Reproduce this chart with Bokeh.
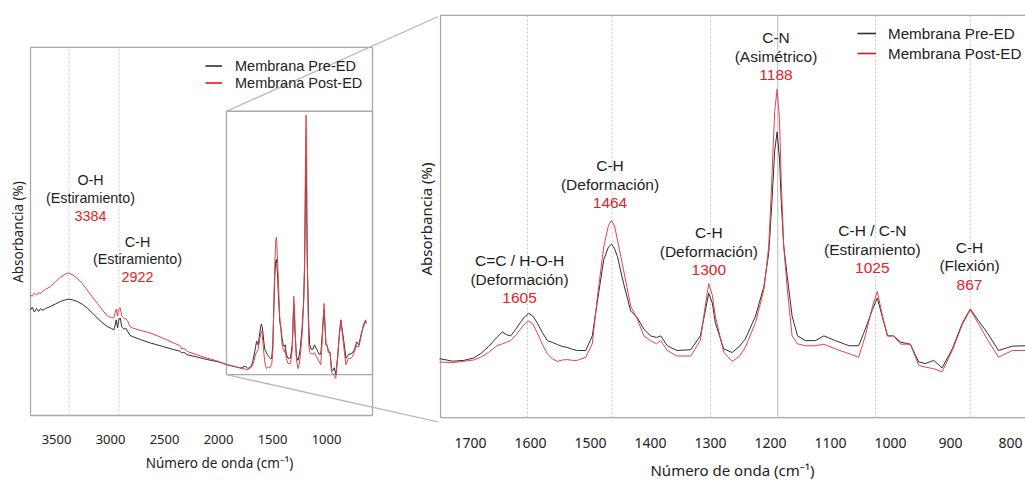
import math
from bokeh.plotting import figure
from bokeh.models import Range1d, FixedTicker, Legend, LegendItem
from bokeh.layouts import row
from bokeh.embed import file_html
from bokeh.resources import INLINE
from bokeh.core.properties import value

# ---------------- data ----------------
wavenumber = [3741, 3725, 3705, 3685, 3665, 3648, 3625, 3600,
              3556, 3510, 3463, 3420, 3386, 3350, 3309, 3260, 3216, 3170,
              3123, 3075, 3031, 2990, 2969, 2955, 2947, 2935, 2922, 2910,
              2895, 2877, 2855, 2840, 2820, 2800, 2720, 2630, 2520, 2414,
              2360, 2340, 2320, 2290, 2200, 2105, 2000, 1920, 1850, 1796,
              1750, 1730, 1711, 1695, 1683, 1670, 1656, 1647, 1640, 1633,
              1625, 1617, 1610, 1603, 1596, 1589, 1580, 1572, 1563, 1555,
              1547, 1539, 1530, 1522, 1508, 1497, 1489, 1478, 1470, 1465,
              1460, 1455, 1445, 1433, 1422, 1411, 1400, 1390, 1383, 1372,
              1356, 1333, 1317, 1310, 1303, 1297, 1292, 1278, 1264, 1252,
              1242, 1225, 1211, 1203, 1198, 1193, 1189, 1185, 1182, 1178,
              1172, 1164, 1155, 1142, 1125, 1111, 1092, 1069, 1053, 1042,
              1030, 1022, 1014, 1005, 995, 983, 967, 953, 942, 928,
              914, 897, 880, 867, 853, 839, 820, 797, 775, 760,
              740, 720, 700, 680, 660, 640, 630]

pre_ed = [0.287, 0.294, 0.281, 0.291, 0.283, 0.290, 0.286, 0.291,
          0.296, 0.303, 0.310, 0.314, 0.316, 0.314, 0.310, 0.302, 0.292, 0.279,
          0.265, 0.252, 0.242, 0.236, 0.233, 0.248, 0.260, 0.238, 0.262, 0.265,
          0.240, 0.235, 0.236, 0.228, 0.218, 0.215, 0.206, 0.197, 0.188, 0.179,
          0.175, 0.170, 0.172, 0.165, 0.159, 0.152, 0.146, 0.138, 0.133, 0.129,
          0.134, 0.128, 0.130, 0.136, 0.147, 0.165, 0.188, 0.202, 0.195, 0.192,
          0.208, 0.2255, 0.240, 0.249, 0.242, 0.2255, 0.200, 0.180, 0.175, 0.170,
          0.165, 0.163, 0.158, 0.155, 0.155, 0.192, 0.275, 0.384, 0.417, 0.424,
          0.413, 0.392, 0.325, 0.255, 0.238, 0.209, 0.192, 0.188, 0.192, 0.167,
          0.155, 0.157, 0.192, 0.245, 0.300, 0.275, 0.2255, 0.159, 0.150, 0.165,
          0.184, 0.242, 0.317, 0.400, 0.520, 0.660, 0.708, 0.640, 0.530, 0.420,
          0.342, 0.242, 0.192, 0.180, 0.180, 0.192, 0.180, 0.167, 0.167, 0.209,
          0.259, 0.288, 0.242, 0.192, 0.192, 0.176, 0.171, 0.126, 0.122, 0.130,
          0.111, 0.159, 0.2255, 0.260, 0.2297, 0.2006, 0.155, 0.166, 0.167, 0.170,
          0.180, 0.200, 0.192, 0.220, 0.240, 0.256, 0.250]

post_ed = [0.328, 0.324, 0.333, 0.327, 0.334, 0.331, 0.338, 0.343,
           0.350, 0.363, 0.376, 0.384, 0.387, 0.382, 0.373, 0.358, 0.341, 0.323,
           0.305, 0.287, 0.271, 0.266, 0.265, 0.280, 0.289, 0.270, 0.290, 0.292,
           0.270, 0.265, 0.262, 0.256, 0.242, 0.238, 0.231, 0.224, 0.211, 0.197,
           0.190, 0.181, 0.183, 0.174, 0.165, 0.156, 0.147, 0.138, 0.133, 0.129,
           0.126, 0.124, 0.128, 0.131, 0.138, 0.150, 0.167, 0.172, 0.176, 0.180,
           0.193, 0.209, 0.221, 0.2297, 0.222, 0.2006, 0.170, 0.147, 0.133, 0.1275,
           0.131, 0.132, 0.130, 0.130, 0.138, 0.172, 0.284, 0.417, 0.472, 0.484,
           0.470, 0.434, 0.359, 0.267, 0.234, 0.192, 0.180, 0.172, 0.180, 0.155,
           0.141, 0.141, 0.180, 0.255, 0.324, 0.295, 0.242, 0.151, 0.1275, 0.140,
           0.163, 0.2255, 0.309, 0.417, 0.580, 0.760, 0.816, 0.740, 0.580, 0.420,
           0.309, 0.192, 0.172, 0.167, 0.167, 0.171, 0.159, 0.147, 0.138, 0.192,
           0.267, 0.3046, 0.2465, 0.192, 0.192, 0.171, 0.171, 0.1175, 0.113, 0.109,
           0.101, 0.155, 0.2215, 0.258, 0.2215, 0.184, 0.138, 0.155, 0.155, 0.160,
           0.175, 0.190, 0.186, 0.215, 0.245, 0.260, 0.255]

left_ticks = [3500, 3000, 2500, 2000, 1500, 1000]
right_ticks = [1700, 1600, 1500, 1400, 1300, 1200, 1100, 1000, 900, 800]

left_bands = [3384, 2922]
left_groups = ["O-H", "C-H"]
left_modes = ["(Estiramiento)", "(Estiramiento)"]
left_labels = ["3384", "2922"]

right_bands = [1605, 1464, 1300, 1025, 867]
main_band = [1188]
right_groups = ["C=C / H-O-H", "C-H", "C-H", "C-N", "C-H / C-N", "C-H"]
right_modes = ["(Deformación)", "(Deformación)", "(Deformación)", "(Asimétrico)",
               "(Estiramiento)", "(Flexión)"]
right_labels = ["1605", "1464", "1300", "1188", "1025", "867"]

series_names = ["Membrana Pre-ED", "Membrana Post-ED"]

# ---------------- layout / style (not data) ----------------
BLACK = "#2f2f2f"
RED = "#e0444a"
LEG_RED = "#e8141c"
FRAME = "#a8a8a8"
GRID = "#c8c8c8"
TXT = "#1e1e1e"
NUM = "#e3222a"
ANN_FONT = value("Liberation Sans")
NAN = [float("nan")]

# left panel: full spectrum
LX = (4018.5, -37.04)
LY = (-0.02439, 1.1274)
LBOX = (3740.7, 574.0, 0.0, 1.0)          # left, right, bottom, top (data units)
INSET = (1926.0, 574.0, 0.1111, 0.8266)

p1 = figure(width=438, height=482, x_range=Range1d(*LX), y_range=Range1d(*LY),
            output_backend="svg", toolbar_location=None, y_axis_location=None,
            min_border_left=0, min_border_right=0, min_border_top=0, min_border_bottom=57)
p1.outline_line_color = None
p1.grid.visible = False

ax = p1.xaxis[0]
ax.ticker = FixedTicker(ticks=left_ticks)
ax.major_tick_line_color = None
ax.minor_tick_line_color = None
ax.axis_line_color = None
ax.major_label_text_font = "Noto Sans"
ax.major_label_text_font_size = "13px"
ax.major_label_text_color = "#222222"
ax.major_label_standoff = 4
ax.axis_label = "Número de onda (cm⁻¹)"
ax.axis_label_text_font = "Noto Sans"
ax.axis_label_text_font_size = "13.5px"
ax.axis_label_text_font_style = "normal"
ax.axis_label_text_color = "#222222"
ax.axis_label_standoff = 7

p1.quad(left=[LBOX[0]], right=[LBOX[1]], bottom=[LBOX[2]], top=[LBOX[3]],
        fill_color=None, line_color=FRAME, line_width=1.3)
p1.segment(x0=left_bands, y0=[LBOX[2]] * len(left_bands), x1=left_bands,
           y1=[LBOX[3]] * len(left_bands), line_color=GRID, line_dash="2 2", line_width=1)
p1.quad(left=[INSET[0]], right=[INSET[1]], bottom=[INSET[2]], top=[INSET[3]],
        fill_color=None, line_color=FRAME, line_width=1.3)
# zoom connector lines towards the right panel's frame corners
p1.segment(x0=[INSET[0], INSET[0]], y0=[INSET[3], INSET[2]],
           x1=[-55.6, -55.6], y1=[1.0867, -0.019], line_color="#b8b8b8", line_width=1.3)

p1.line(wavenumber, pre_ed, line_color=BLACK, line_width=1)
p1.line(wavenumber, post_ed, line_color=RED, line_width=1)
k1_pre = p1.line(x=NAN, y=NAN, line_color=BLACK, line_width=1.6)
k1_post = p1.line(x=NAN, y=NAN, line_color=LEG_RED, line_width=1.6)

LGAP = 0.0485
l_ann_x = [3185, 2750]
l_ann_y = [0.6396, 0.4724]
p1.text(x=l_ann_x, y=l_ann_y, text=left_groups, text_font=ANN_FONT, text_font_size="14.3px",
        text_color=TXT, text_align="center", text_baseline="middle")
p1.text(x=l_ann_x, y=[v - LGAP for v in l_ann_y], text=left_modes, text_font=ANN_FONT,
        text_font_size="14.3px", text_color=TXT, text_align="center", text_baseline="middle")
p1.text(x=l_ann_x, y=[v - 2 * LGAP for v in l_ann_y], text=left_labels, text_font=ANN_FONT,
        text_font_size="14.3px", text_color=NUM, text_align="center", text_baseline="middle")

# y-axis titles (left panel and the right panel's, which sits in the gap)
p1.text(x=[3851.9, 83.3], y=[0.4986, 0.5339], text=["Absorbancia (%)", "Absorbancia (%)"],
        text_font=value("Noto Sans"), text_font_size=["13.5px", "15px"], angle=math.pi / 2,
        text_color="#222222", text_align="center", text_baseline="middle")

leg1 = Legend(items=[LegendItem(label=series_names[0], renderers=[k1_pre]),
                     LegendItem(label=series_names[1], renderers=[k1_post])],
              location=(205, 333), padding=0, margin=0, spacing=0,
              glyph_width=17, glyph_height=17, label_height=17, label_standoff=13,
              label_text_font="Liberation Sans", label_text_font_size="14.5px",
              label_text_color="#222222", border_line_color=None, background_fill_alpha=0)
p1.add_layout(leg1)

# right panel: zoom of the fingerprint region
RX = (1751.67, 775.0)
RY = (-0.03218, 1.04041)
RBOX = (1750.0, 700.0, -0.0147, 1.0027)

p2 = figure(width=587, height=482, x_range=Range1d(*RX), y_range=Range1d(*RY),
            output_backend="svg", toolbar_location=None, y_axis_location=None,
            min_border_left=1, min_border_right=0, min_border_top=0, min_border_bottom=52)
p2.outline_line_color = None
p2.grid.visible = False

bx = p2.xaxis[0]
bx.ticker = FixedTicker(ticks=right_ticks)
bx.major_tick_line_color = None
bx.minor_tick_line_color = None
bx.axis_line_color = None
bx.major_label_text_font = "Noto Sans"
bx.major_label_text_font_size = "14px"
bx.major_label_text_color = "#222222"
bx.major_label_standoff = 7
bx.axis_label = "Número de onda (cm⁻¹)"
bx.axis_label_text_font = "Noto Sans"
bx.axis_label_text_font_size = "15px"
bx.axis_label_text_font_style = "normal"
bx.axis_label_text_color = "#222222"
bx.axis_label_standoff = 9

p2.quad(left=[RBOX[0]], right=[RBOX[1]], bottom=[RBOX[2]], top=[RBOX[3]],
        fill_color=None, line_color=FRAME, line_width=1.3)
p2.segment(x0=right_bands, y0=[RBOX[2]] * len(right_bands), x1=right_bands,
           y1=[RBOX[3]] * len(right_bands), line_color=GRID, line_dash="2 2", line_width=1)
p2.segment(x0=main_band, y0=[RBOX[2]], x1=main_band, y1=[RBOX[3]],
           line_color=GRID, line_width=1.2)

p2.line(wavenumber, pre_ed, line_color=BLACK, line_width=1)
p2.line(wavenumber, post_ed, line_color=RED, line_width=1)
k2_pre = p2.line(x=NAN, y=NAN, line_color=BLACK, line_width=1.6)
k2_post = p2.line(x=NAN, y=NAN, line_color=LEG_RED, line_width=1.6)

RGAP = 0.048
r_ann_x = [1618.3, 1467.5, 1302.8, 1190.8, 1030.3, 868.3]
r_ann_y = [0.3836, 0.6238, 0.4542, 0.9474, 0.4585, 0.4168]
p2.text(x=r_ann_x, y=r_ann_y, text=right_groups, text_font=ANN_FONT, text_font_size="15.5px",
        text_color=TXT, text_align="center", text_baseline="middle")
p2.text(x=r_ann_x, y=[v - RGAP for v in r_ann_y], text=right_modes, text_font=ANN_FONT,
        text_font_size="15.5px", text_color=TXT, text_align="center", text_baseline="middle")
p2.text(x=r_ann_x, y=[v - 2 * RGAP for v in r_ann_y], text=right_labels, text_font=ANN_FONT,
        text_font_size="15.5px", text_color=NUM, text_align="center", text_baseline="middle")

leg2 = Legend(items=[LegendItem(label=series_names[0], renderers=[k2_pre]),
                     LegendItem(label=series_names[1], renderers=[k2_post])],
              location=(418, 361), padding=0, margin=0, spacing=0,
              glyph_width=19, glyph_height=20, label_height=20, label_standoff=12,
              label_text_font="Liberation Sans", label_text_font_size="15.2px",
              label_text_color="#222222", border_line_color=None, background_fill_alpha=0)
p2.add_layout(leg2)

layout = row(p1, p2, spacing=0)
open("out.html", "w").write(file_html(layout, INLINE))
